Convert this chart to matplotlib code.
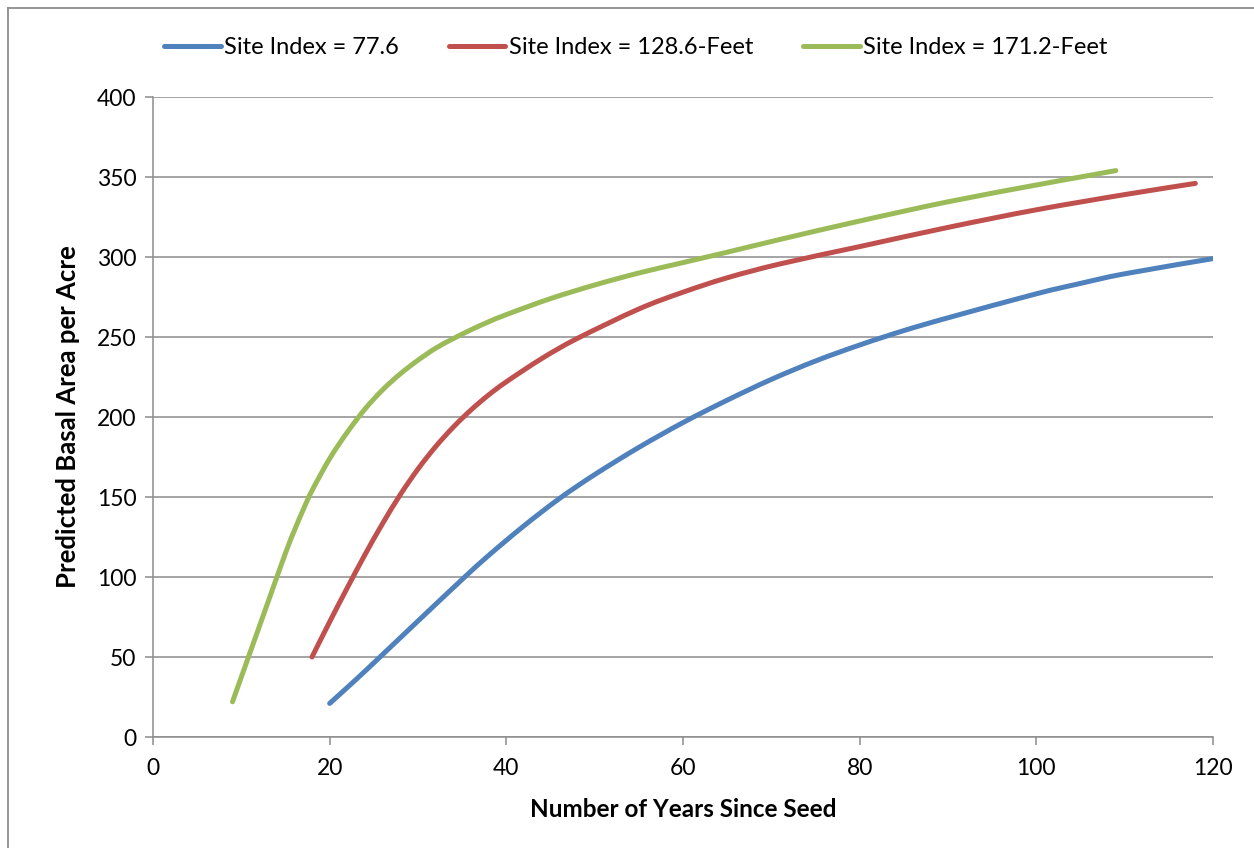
import numpy as np
import matplotlib.pyplot as plt
from matplotlib.lines import Line2D
from matplotlib.path import Path
from matplotlib.patches import PathPatch

plt.rcParams['font.family'] = ['Lato', 'DejaVu Sans']

# values
years_77 = [20, 23, 25.7, 30, 35, 38, 42, 46, 50, 55, 60, 65, 70, 75, 80, 85, 90, 100, 105, 110, 120]
ba_77 = [21, 36, 50, 72.5, 98.5, 113.5, 132, 149, 164, 181, 196.5, 210.5, 223.5, 235, 245, 254, 262, 277, 283.5, 289.5, 299]

years_128 = [18, 20, 22, 24, 26, 28, 30, 32, 34, 36, 38, 40, 44, 48, 55, 60, 65, 71, 80, 90, 100, 110, 118]
ba_128 = [50, 72, 93.3, 114, 133.5, 151.5, 167.5, 181.5, 193.7, 204.4, 213.8, 222, 236.5, 249, 267.5, 278, 287, 295.7, 306.5, 318.5, 329.5, 339, 346]

years_171 = [9, 11, 13, 15, 16, 17, 18, 20, 22, 24, 26, 28, 30, 32, 34, 36, 38, 40, 45, 50, 55, 60, 65, 71, 80, 90, 100, 105, 109]
ba_171 = [22, 53, 84, 115, 129, 142, 154, 174, 190.5, 205, 217, 227, 235.5, 243, 249, 254.5, 259.5, 264, 274, 282.5, 290, 296.5, 303, 311, 322.5, 334.5, 345, 350, 354]

labels = ['Site Index = 77.6', 'Site Index = 128.6-Feet', 'Site Index = 171.2-Feet']
colors = ['#4F81BD', '#C0504D', '#9BBB59']


def smooth_path(x, y):
    # Excel-style smoothed line: Bezier segments through the points
    pts = np.column_stack([x, y]).astype(float)
    n = len(pts)
    verts = [pts[0]]
    codes = [Path.MOVETO]
    for i in range(n - 1):
        p0 = pts[i - 1] if i > 0 else pts[i]
        p1 = pts[i]
        p2 = pts[i + 1]
        p3 = pts[i + 2] if i + 2 < n else pts[i + 1]
        verts += [p1 + (p2 - p0) / 6, p2 - (p3 - p1) / 6, p2]
        codes += [Path.CURVE4] * 3
    return Path(verts, codes)


fig = plt.figure(figsize=(12.54, 8.48), dpi=100)
ax = fig.add_axes([153 / 1254, 1 - 737 / 848, 1060 / 1254, 640 / 848])

series = [(years_77, ba_77), (years_128, ba_128), (years_171, ba_171)]
handles = []
for (x, y), lab, c in zip(series, labels, colors):
    ax.add_patch(PathPatch(smooth_path(x, y), fill=False, edgecolor=c, lw=3.6,
                           capstyle='round', joinstyle='round', zorder=3))
    handles.append(Line2D([], [], color=c, lw=3.6, label=lab, solid_capstyle='round'))

ax.set_xlim(0, 120)
ax.set_ylim(0, 400)
ax.set_xticks(range(0, 121, 20))
ax.set_yticks(range(0, 401, 50))
ax.yaxis.grid(True, color='#8C8C8C', lw=1.1)
ax.set_axisbelow(True)
for s in ['top', 'right']:
    ax.spines[s].set_visible(False)
for s in ['left', 'bottom']:
    ax.spines[s].set_color('#8C8C8C')
    ax.spines[s].set_linewidth(1.1)
ax.tick_params(axis='both', colors='#8C8C8C', labelcolor='black', length=6, width=1.1,
               labelsize=16.5)
ax.tick_params(axis='x', pad=9)
ax.tick_params(axis='y', pad=6)

ax.set_xlabel('Number of Years Since Seed', fontsize=17.5, fontweight='bold', labelpad=14)
ax.set_ylabel('Predicted Basal Area per Acre', fontsize=18.5, fontweight='bold', labelpad=12)

fig.legend(handles=handles, loc='center', bbox_to_anchor=(0.507, 1 - 48 / 848), ncol=3,
           frameon=False, fontsize=17, handlelength=2.4, handletextpad=0.15, columnspacing=2.1)

# chart border
fig.add_artist(Line2D([8 / 1254, 8 / 1254], [0, 1 - 8 / 848], color='#8C8C8C', lw=1.3))
fig.add_artist(Line2D([8 / 1254, 1], [1 - 8 / 848, 1 - 8 / 848], color='#8C8C8C', lw=1.3))

plt.savefig('out.png', dpi=100)
